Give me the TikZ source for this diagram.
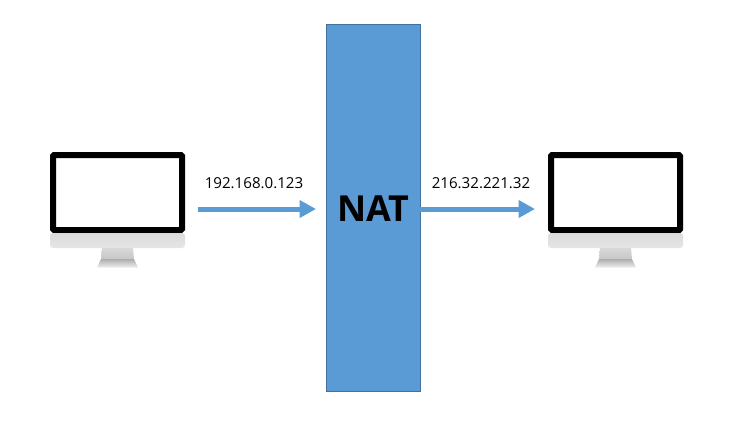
\documentclass[tikz,border=0pt]{standalone}
\usepackage{fontspec}
\usepackage{xcolor}
\setmainfont{Open Sans}
\usetikzlibrary{arrows.meta}
\definecolor{natblue}{HTML}{5B9BD5}
\definecolor{natedge}{HTML}{41719C}
\tikzset{
  natbox/.style={draw=natedge, line width=0.4pt, fill=natblue, minimum width=1.88cm, minimum height=7.34cm, inner sep=0pt},
  screenbox/.style={draw=black, line width=0.12cm, fill=white, rounded corners=0.02cm, minimum width=2.58cm, minimum height=1.5cm, inner sep=0pt},
  iplabel/.style={font=\fontsize{8.6}{11}\selectfont, text=black, inner sep=0pt},
  flow/.style={natblue, line width=0.1cm, -{Triangle[length=0.33cm, width=0.34cm]}},
}
% monitor body below a screen node
\newcommand{\standbelow}[1]{
  \shade[top color=white!86!black, bottom color=white!90!black, rounded corners=0.06cm]
    (#1.south west) rectangle ([yshift=-0.3cm]#1.south east);
  \shade[top color=white!85!black, bottom color=white!78!black]
    ([xshift=-0.31cm, yshift=-0.3cm]#1.south) -- ([xshift=0.31cm, yshift=-0.3cm]#1.south)
    -- ([xshift=0.33cm, yshift=-0.52cm]#1.south) -- ([xshift=-0.33cm, yshift=-0.52cm]#1.south) -- cycle;
  \shade[top color=white!68!black, bottom color=white!94!black]
    ([xshift=-0.33cm, yshift=-0.52cm]#1.south) -- ([xshift=0.33cm, yshift=-0.52cm]#1.south)
    -- ([xshift=0.41cm, yshift=-0.69cm]#1.south) -- ([xshift=-0.41cm, yshift=-0.69cm]#1.south) -- cycle;
}
\begin{document}
\begin{tikzpicture}
  \useasboundingbox (0,0) rectangle (15,-8.48);

  \node[natbox] (nat) at (7.46,-4.16) {};
  \node[font=\bfseries\fontsize{20.4}{24}\selectfont] (natname) at (7.47,-4.17) {NAT};

  \node[screenbox] (pcleft) at (2.35,-3.85) {};
  \node[screenbox] (pcright) at (12.31,-3.85) {};
  \standbelow{pcleft}
  \standbelow{pcright}

  \coordinate (inend) at (6.32,-4.18);
  \coordinate (outend) at (10.70,-4.18);
  \draw[flow] (3.96,-4.18) -- (inend);
  \draw[flow] (nat.east |- outend) -- (outend);

  \node[iplabel] (ipin) at (5.08,-3.67) {192.168.0.123};
  \node[iplabel] (ipout) at (9.62,-3.67) {216.32.221.32};
\end{tikzpicture}
\end{document}
